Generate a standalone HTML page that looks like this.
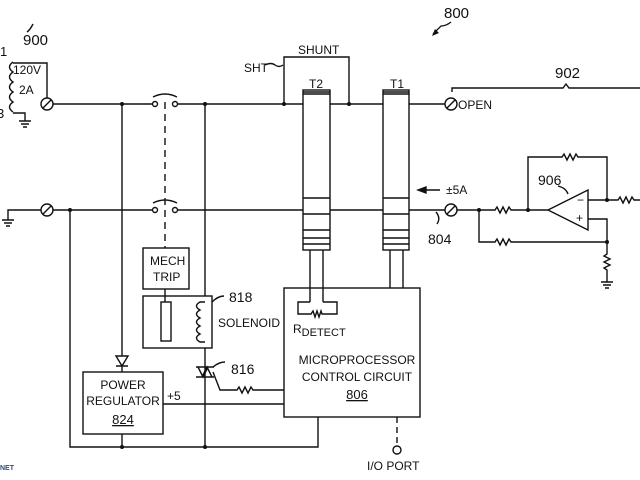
<!DOCTYPE html>
<html><head><style>html,body{margin:0;padding:0;background:#fff}svg{display:block}text{font-family:"Liberation Sans",sans-serif;fill:#111}</style></head>
<body>
<svg width="640" height="480" viewBox="0 0 640 480" xmlns="http://www.w3.org/2000/svg">
<g stroke="#111" stroke-width="1.4" fill="none">
<!-- source coil -->
<path d="M13,62 q-7,5 0,10 q-7,5 0,10 q-7,5 0,10 q-7,5 0,10 q-7,5 0,10"/>
<path d="M13,63 H47 V98"/>
<path d="M13,113 H25 V121"/>
<path d="M19,121 H31 M21,124 H29 M23,127 H27"/>
<path d="M33,24 q-3,6 -6,8"/>
<circle cx="47" cy="104" r="6"/><path d="M43,108 L51,100"/>
<!-- top line -->
<path d="M53,104 H152 M158,104 M177,104 H303 M330,104 H383 M409,104 H445"/>
<circle cx="155" cy="104" r="2.5"/><circle cx="175" cy="104" r="2.5"/>
<path d="M153,97 q12,-6 24,0"/>
<circle cx="451" cy="104" r="6"/><path d="M447,108 L455,100"/>
<!-- bottom line -->
<path d="M8,220 V210 H41"/>
<path d="M2,220 H14 M4,223 H12 M6,226 H10"/>
<circle cx="47" cy="210" r="6"/><path d="M43,214 L51,206"/>
<path d="M53,210 H152 M177,210 H303 M330,210 H383 M409,210 H445"/>
<circle cx="155" cy="210" r="2.5"/><circle cx="175" cy="210" r="2.5"/>
<path d="M153,203 q12,-6 24,0"/>
<circle cx="451" cy="210" r="6"/><path d="M447,214 L455,206"/>
<!-- dashed link -->
<path d="M165,102 V248" stroke-dasharray="7,5"/>
<!-- SHUNT -->
<path d="M284,104 V57 H349 V104"/>
<path d="M265,65 q6,-3 10,0 q4,3 8,0"/>
<!-- T2 T1 -->
<rect x="303" y="90" width="27" height="160"/>
<rect x="383" y="90" width="26" height="160"/>
<path d="M303,92 H330 M303,94 H330 M303,198 H330 M303,214 H330 M303,230 H330 M303,238 H330 M303,244 H330"/>
<path d="M383,92 H409 M383,94 H409 M383,198 H409 M383,214 H409 M383,230 H409 M383,238 H409 M383,244 H409"/>
<path d="M310,250 V302 M323,250 V302 M390,250 V288 M403,250 V288"/>
<!-- 902 bracket -->
<path d="M452,92 V88 H563 l3,-4 l3,4 H640"/>
<!-- 5A arrow -->
<path d="M420,190 H440"/><path d="M418,190 l8,-3 v6z" fill="#111"/>
<path d="M436,212 q5,6 1,12"/>
<!-- opamp -->
<path d="M457,210 H495 l2,-3 l3,6 l3,-6 l3,6 l3,-6 l2,3 H548"/>
<path d="M479,210 V242 H495 l2,-3 l3,6 l3,-6 l3,6 l3,-6 l2,3 H607"/>
<path d="M548,210 L588,190 V230 Z"/>
<path d="M528,210 V157 H562 l2,-3 l3,6 l3,-6 l3,6 l3,-6 l2,3 H607 V200"/>
<path d="M588,200 H618 l2,-3 l3,6 l3,-6 l3,6 l3,-6 l2,3 H640"/>
<path d="M588,219 H607 V242 V254 l-3,2 l6,3 l-6,3 l6,3 l-6,3 l3,2 V282"/>
<path d="M601,282 H613 M603,285 H611 M605,288 H609"/>
<path d="M558,186 q8,2 10,8"/>
<!-- MCU -->
<rect x="284" y="288" width="136" height="129"/>
<path d="M310,302 H298 V314 H311 l2,-3 l2,6 l2,-6 l2,6 l2,-6 l1,3 H337 V302 H323"/>
<path d="M397,417 V445" stroke-dasharray="6,4"/>
<circle cx="397" cy="450" r="4"/>
<!-- mech trip / solenoid -->
<rect x="143" y="248" width="46" height="41"/>
<rect x="143" y="296" width="69" height="52"/>
<rect x="161" y="302" width="10" height="39"/>
<path d="M165,289 V302"/>
<path d="M205,302 H200 q-7,4 0,8 q-7,4 0,8 q-7,4 0,8 q-7,4 0,8 q-7,4 0,8 H205"/>
<path d="M212,302 q6,-6 12,-6"/>
<!-- x=205 vertical with triac -->
<path d="M205,104 V296 M205,348 V447"/>
<path d="M196,367 H214 M196,377 H214 M198,367 L203,377 L208,367 M202,377 L207,367 L212,377"/>
<path d="M213,372 L220,390 H237 l2,-3 l3,6 l3,-6 l3,6 l3,-6 l2,3 H284"/>
<path d="M213,367 q6,-5 12,-5"/>
<!-- x=122 & regulator -->
<path d="M122,104 V356 M122,366 V372"/>
<path d="M116,356 H128 L122,366 Z M116,366 H128"/>
<rect x="83" y="372" width="80" height="62"/>
<path d="M163,404 H284"/>
<path d="M70,210 V447 H318 V417 M122,434 V447"/>
</g>
<g fill="#111">
<circle cx="122" cy="104" r="2"/><circle cx="205" cy="104" r="2"/><circle cx="284" cy="104" r="2"/><circle cx="349" cy="104" r="2"/>
<circle cx="70" cy="210" r="2"/><circle cx="479" cy="210" r="2"/><circle cx="528" cy="210" r="2"/><circle cx="607" cy="200" r="2"/><circle cx="607" cy="242" r="2"/>
<circle cx="122" cy="447" r="2"/><circle cx="205" cy="447" r="2"/>
</g>
<path d="M451,22 q-5,4 -10,4 l-8,8" stroke="#111" stroke-width="1.3" fill="none"/>
<path d="M432,36 l3,-7 l4,4z" fill="#111"/>
<g font-size="13">
<text x="444" y="18" font-size="15">800</text>
<text x="23" y="45" font-size="15">900</text>
<text x="0" y="56">1</text><text x="-3" y="118">3</text>
<text x="13" y="74" font-size="12">120V</text><text x="19" y="94" font-size="12">2A</text>
<text x="244" y="72" font-size="12">SHT</text>
<text x="298" y="54" font-size="12">SHUNT</text>
<text x="309" y="88" font-size="12">T2</text><text x="390" y="88" font-size="12">T1</text>
<text x="458" y="109" font-size="12">OPEN</text>
<text x="555" y="78" font-size="15">902</text>
<text x="446" y="194" font-size="12">±5A</text>
<text x="428" y="244" font-size="14">804</text>
<text x="538" y="185" font-size="14">906</text>
<text x="577" y="204" font-size="12">−</text><text x="576" y="222" font-size="12">+</text>
<text x="150" y="265" font-size="12">MECH</text><text x="153" y="281" font-size="12">TRIP</text>
<text x="229" y="302" font-size="14">818</text>
<text x="218" y="327" font-size="12">SOLENOID</text>
<text x="231" y="374" font-size="14">816</text>
<text x="293" y="333" font-size="12">R<tspan font-size="11" dy="3">DETECT</tspan></text>
<text x="357" y="364" font-size="12" text-anchor="middle">MICROPROCESSOR</text>
<text x="357" y="381" font-size="12" text-anchor="middle">CONTROL CIRCUIT</text>
<text x="357" y="399" font-size="13" text-anchor="middle" text-decoration="underline">806</text>
<text x="123" y="389" font-size="12" text-anchor="middle">POWER</text>
<text x="123" y="405" font-size="12" text-anchor="middle">REGULATOR</text>
<text x="123" y="424" font-size="13" text-anchor="middle" text-decoration="underline">824</text>
<text x="167" y="400" font-size="12">+5</text>
<text x="367" y="470" font-size="12">I/O PORT</text>
<text x="0" y="470" font-size="7" font-weight="bold" style="fill:#2a4a8a">NET</text>
</g>
</svg>
</body></html>
